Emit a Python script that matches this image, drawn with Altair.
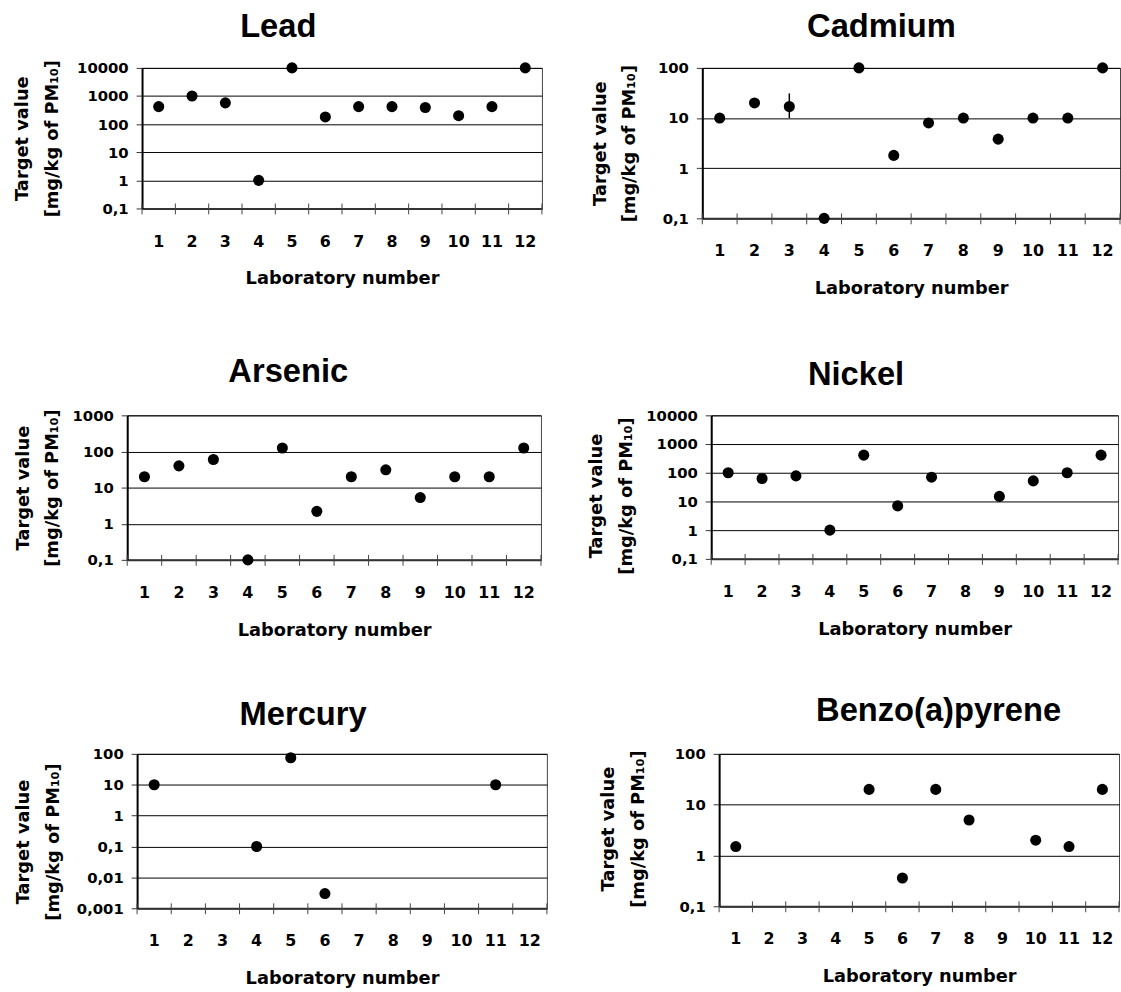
import altair as alt
import pandas as pd

LABS = list(range(1, 13))

lead_labs = LABS
lead_vals = [420, 1000, 570, 1, 10000, 180, 420, 420, 390, 200, 420, 10000]
lead_ticks = [0.1, 1, 10, 100, 1000, 10000]

cadmium_labs = LABS
cadmium_vals = [10, 20, 17, 0.1, 100, 1.8, 8, 10, 3.8, 10, 10, 100]
cadmium_ticks = [0.1, 1, 10, 100]
cadmium_err_lab = [3]
cadmium_err_low = [10]
cadmium_err_high = [31]

arsenic_labs = LABS
arsenic_vals = [20, 40, 60, 0.1, 125, 2.2, 20, 31, 5.3, 20, 20, 125]
arsenic_ticks = [0.1, 1, 10, 100, 1000]

nickel_labs = [1, 2, 3, 4, 5, 6, 7, 9, 10, 11, 12]
nickel_vals = [100, 63, 78, 1, 410, 7, 70, 15, 52, 100, 410]
nickel_ticks = [0.1, 1, 10, 100, 1000, 10000]

mercury_labs = [1, 4, 5, 6, 11]
mercury_vals = [10, 0.1, 75, 0.003, 10]
mercury_ticks = [0.001, 0.01, 0.1, 1, 10, 100]

benzo_labs = [1, 5, 6, 7, 8, 10, 11, 12]
benzo_vals = [1.5, 20, 0.36, 20, 5, 2, 1.5, 20]
benzo_ticks = [0.1, 1, 10, 100]

X_TITLE = "Laboratory number"
Y_TITLE = ["Target value", "[mg/kg of PM\u2081\u2080]"]


def panel(title, labs, vals, yticks, w, h, title_dx, title_offset,
          ytitle_x, ytitle_y=None, err=None):
    xs = alt.Scale(type="band", domain=LABS, paddingInner=0, paddingOuter=0)
    ys = alt.Scale(type="log", domain=[yticks[0], yticks[-1]], nice=False)
    x_axis = alt.Axis(title=X_TITLE, labelAngle=0, ticks=False, grid=False,
                      domainColor="#333", domainWidth=2, labelFontSize=16,
                      labelBaseline="middle", labelPadding=33,
                      titleFontSize=18, titleY=71, titleBaseline="middle")
    ykw = dict(title=Y_TITLE, values=yticks,
               labelExpr="replace(toString(datum.value), '.', ',')",
               grid=True, gridColor="#000", gridWidth=1, gridOpacity=1,
               domainColor="#000", domainWidth=2, tickColor="#333",
               tickSize=6, tickWidth=1, labelFontSize=15, labelPadding=8,
               titleFontSize=18, titleLineHeight=30, titleX=ytitle_x,
               titleBaseline="middle")
    if ytitle_y is not None:
        ykw["titleY"] = ytitle_y
    y_axis = alt.Axis(**ykw)

    df = pd.DataFrame({"lab": labs, "value": vals})
    pts = alt.Chart(df).mark_circle(size=125, color="black", opacity=1).encode(
        x=alt.X("lab:O", scale=xs, axis=x_axis),
        y=alt.Y("value:Q", scale=ys, axis=y_axis),
    )
    tdf = pd.DataFrame({"lab": LABS})
    ticks_l = alt.Chart(tdf).mark_rule(color="#444", strokeWidth=1).encode(
        x=alt.X("lab:O", scale=xs, axis=x_axis, bandPosition=0),
        y=alt.value(h - 5), y2=alt.value(h + 6),
    )
    edf = pd.DataFrame({"lab": [LABS[-1]]})
    ticks_r = alt.Chart(edf).mark_rule(color="#444", strokeWidth=1).encode(
        x=alt.X("lab:O", scale=xs, axis=x_axis, bandPosition=1),
        y=alt.value(h - 5), y2=alt.value(h + 6),
    )
    layers = [ticks_l, ticks_r]
    if err is not None:
        edf2 = pd.DataFrame({"lab": err[0], "value": err[1], "hi": err[2]})
        layers.append(alt.Chart(edf2).mark_rule(color="black", strokeWidth=1.5).encode(
            x=alt.X("lab:O", scale=xs, axis=x_axis),
            y=alt.Y("value:Q", scale=ys, axis=y_axis),
            y2="hi:Q",
        ))
    layers.append(pts)
    return alt.layer(*layers).properties(
        width=w, height=h,
        title=alt.TitleParams(text=title, font="Liberation Sans", fontSize=33,
                              fontWeight="bold", color="black", anchor="middle",
                              frame="group", dx=title_dx, offset=title_offset,
                              baseline="alphabetic"),
    )


def spacer(w):
    # invisible layout spacer (no data drawn)
    return alt.Chart(pd.DataFrame({"s": [0]})).mark_point(opacity=0).encode(
        x=alt.value(0), y=alt.value(0)
    ).properties(width=w, height=1, view=alt.ViewBackground(stroke="transparent"))


lead = panel("Lead", lead_labs, lead_vals, lead_ticks, 404, 142, -64.4, -10, -120.5)
cad = panel("Cadmium", cadmium_labs, cadmium_vals, cadmium_ticks, 422, 152, -30, -9, -103,
            err=(cadmium_err_lab, cadmium_err_low, cadmium_err_high))
ars = panel("Arsenic", arsenic_labs, arsenic_vals, arsenic_ticks, 418, 146, -46.3, -6.7, -105)
nic = panel("Nickel", nickel_labs, nickel_vals, nickel_ticks, 411, 145, -59.2, -9, -116, ytitle_y=81)
mer = panel("Mercury", mercury_labs, mercury_vals, mercury_ticks, 414, 156, -39.3, -10.5, -114.5, ytitle_y=88.5)
ben = panel("Benzo(a)pyrene", benzo_labs, benzo_vals, benzo_ticks, 404, 154, 19.7, -7.2, -111.5, ytitle_y=75.5)

row1 = alt.concat(spacer(1), lead, spacer(43), cad, columns=4, align="none", spacing=0)
row2 = alt.concat(spacer(1), ars, spacer(40), nic, columns=4, align="none", spacing=0)
row3 = alt.concat(spacer(1), mer, spacer(46), ben, columns=4, align="none", spacing=0)

top2 = alt.concat(row1, row2, columns=1, align="none", spacing=58)
chart = alt.concat(top2, row3, columns=1, align="none", spacing=55).configure(
    padding={"left": 5.5, "top": 4.5, "right": 0, "bottom": 0},
    background="white",
).configure_view(
    stroke="#444", strokeWidth=1
).configure_axis(
    labelFont="DejaVu Sans", titleFont="DejaVu Sans",
    labelFontWeight="bold", titleFontWeight="bold",
    labelColor="black", titleColor="black",
)

chart.save("out.html", embed_options={"renderer": "svg", "actions": False})
